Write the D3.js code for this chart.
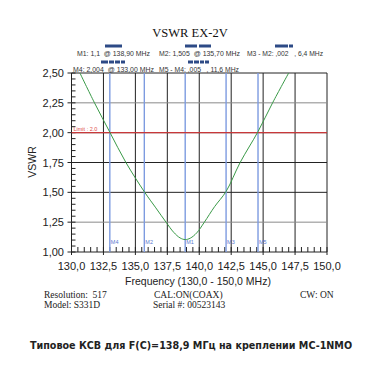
<!DOCTYPE html>
<html><head><meta charset="utf-8">
<script src="https://cdn.jsdelivr.net/npm/d3@7"></script>
<style>body{margin:0;background:#fff}svg{display:block}</style>
</head><body>
<svg id="c" width="382" height="382"></svg>
<script>
const freqs = [130.66,131.8,133.0,134.26,135.7,136.6,137.4,138.0,138.5,138.9,139.3,139.8,140.4,141.2,142.1,143.2,144.6,145.74,147.0];
const vswr  = [2.50,2.25,2.004,1.75,1.505,1.37,1.25,1.165,1.118,1.104,1.116,1.16,1.25,1.38,1.507,1.75,2.009,2.25,2.50];
const xTicks = [130,132.5,135,137.5,140,142.5,145,147.5,150];
const yTicks = [1.0,1.25,1.5,1.75,2.0,2.25,2.5];
const markerNames = ["M4","M2","M1","M3","M5"];
const markerFreqs = [133.0,135.7,138.9,142.1,144.6];
const limitValue = 2.0;
const headerTexts = ["M1: 1,1  @ 138,90 MHz","M2: 1,505  @ 135,70 MHz","M3 - M2: ,002   , 6,4 MHz",
                     "M4: 2,004  @ 133,00 MHz","M5 - M4: ,005   , 11,6 MHz"];

const svg = d3.select("#c");
const x = d3.scaleLinear().domain([130,150]).range([71.5,327]);
const y = d3.scaleLinear().domain([1,2.5]).range([252,73]);
const sans = "Liberation Sans, Arial, sans-serif";
const serif = "Liberation Serif, Times New Roman, serif";

// title
svg.append("text").attr("x",190).attr("y",37).attr("text-anchor","middle")
  .attr("font-family",serif).attr("font-size",12.5).attr("fill","#111").text("VSWR EX-2V");
// header marker bars
const bars = [[105,46,17],[185,46,12],[199,46,12],[275,46,13],[289,46,4],
  [101,62,7],[109,62,5],[115,62,5],[121,62,4],[188,62,5],[194,62,5],[200,62,4],[205,62,4]];
svg.selectAll("rect.hb").data(bars).join("rect").attr("class","hb")
  .attr("x",d=>d[0]).attr("y",d=>d[1]-1.5).attr("width",d=>d[2]).attr("height",3).attr("fill","#2d4a86");
// header texts: [x, y, width]
const hpos = [[77,56,73],[159,56,81],[247,56,76],[73,71.5,81],[159,71.5,80]];
svg.selectAll("text.hd").data(headerTexts).join("text").attr("class","hd")
  .attr("x",(d,i)=>hpos[i][0]).attr("y",(d,i)=>hpos[i][1])
  .attr("textLength",(d,i)=>hpos[i][2]).attr("lengthAdjust","spacingAndGlyphs")
  .attr("font-family",sans).attr("font-size",7.6)
  .attr("fill","#333").attr("xml:space","preserve").text(d=>d);

const g = svg.append("g");
// vertical grid
g.selectAll("line.vg").data(xTicks).join("line").attr("class","vg")
  .attr("x1",d=>x(d)).attr("x2",d=>x(d)).attr("y1",y(2.5)).attr("y2",y(1))
  .attr("stroke","#222").attr("stroke-width",1);
// horizontal grid
g.selectAll("line.hg").data(yTicks).join("line").attr("class","hg")
  .attr("x1",x(130)).attr("x2",x(150)).attr("y1",d=>y(d)).attr("y2",d=>y(d))
  .attr("stroke",d=>(d===2.25||d===1.25)?"#8a8a8a":"#222").attr("stroke-width",1);
// minor ticks y
const yMinor = d3.range(1,2.5001,0.05);
g.selectAll("line.ym").data(yMinor).join("line").attr("class","ym")
  .attr("x1",x(130)).attr("x2",x(130)+4).attr("y1",d=>y(d)).attr("y2",d=>y(d)).attr("stroke","#222");
// minor ticks x
const xMinor = d3.range(130,150.001,0.5);
g.selectAll("line.xm").data(xMinor).join("line").attr("class","xm")
  .attr("x1",d=>x(d)).attr("x2",d=>x(d)).attr("y1",y(1)).attr("y2",y(1)-5).attr("stroke","#222");
// major ticks outside
g.selectAll("line.yt").data(yTicks).join("line").attr("class","yt")
  .attr("x1",x(130)-4).attr("x2",x(130)).attr("y1",d=>y(d)).attr("y2",d=>y(d)).attr("stroke","#222");
g.selectAll("line.xt").data(xTicks).join("line").attr("class","xt")
  .attr("x1",d=>x(d)).attr("x2",d=>x(d)).attr("y1",y(1)).attr("y2",y(1)+3).attr("stroke","#222");

// markers
g.selectAll("line.mk").data(markerFreqs).join("line").attr("class","mk")
  .attr("x1",d=>x(d)).attr("x2",d=>x(d)).attr("y1",y(2.5)).attr("y2",y(1))
  .attr("stroke","#7d9be0").attr("stroke-width",1.4);
g.selectAll("text.mk").data(markerFreqs).join("text").attr("class","mk")
  .attr("x",d=>x(d)+1).attr("y",y(1)-8).attr("font-family",sans).attr("font-size",5.5)
  .attr("fill","#5a7ad0").text((d,i)=>markerNames[i]);

// limit
g.append("line").attr("x1",x(130)).attr("x2",x(150)).attr("y1",y(limitValue)).attr("y2",y(limitValue))
  .attr("stroke","#c8383a").attr("stroke-width",1.4);
g.append("text").attr("x",x(130)+2).attr("y",y(limitValue)-2).attr("font-family",sans)
  .attr("font-size",5.5).attr("fill","#e04848").text("Limit : 2.0");

// curve
const pts = freqs.map((f,i)=>[f,vswr[i]]);
g.append("path").datum(pts).attr("fill","none").attr("stroke","#3a9a48").attr("stroke-width",1)
  .attr("d",d3.line().x(d=>x(d[0])).y(d=>y(d[1])).curve(d3.curveCatmullRom));

// axis labels
g.selectAll("text.yl").data(yTicks).join("text").attr("class","yl")
  .attr("x",64).attr("y",d=>y(d)+4).attr("text-anchor","end").attr("font-family",sans)
  .attr("font-size",11).attr("fill","#222").text(d=>d3.format(".2f")(d).replace(".",","));
g.selectAll("text.xl").data(xTicks).join("text").attr("class","xl")
  .attr("x",d=>x(d)).attr("y",270).attr("text-anchor","middle").attr("font-family",sans)
  .attr("font-size",11).attr("fill","#222").text(d=>d3.format(".1f")(d).replace(".",","));
svg.append("text").attr("transform","translate(36,162) rotate(-90)").attr("text-anchor","middle")
  .attr("font-family",sans).attr("font-size",10.5).attr("fill","#222").text("VSWR");
svg.append("text").attr("x",198).attr("y",285).attr("text-anchor","middle")
  .attr("font-family",sans).attr("font-size",10.5).attr("fill","#222").text("Frequency (130,0 - 150,0 MHz)");

// footer
const foot = [[44,298,"Resolution:  517"],[44,308,"Model: S331D"],[154,298,"CAL:ON(COAX)"],[153,308,"Serial #: 00523143"],[300,298,"CW: ON"]];
svg.selectAll("text.ft").data(foot).join("text").attr("class","ft")
  .attr("x",d=>d[0]).attr("y",d=>d[1]).attr("font-family",serif).attr("font-size",9.5)
  .attr("fill","#222").attr("xml:space","preserve").text(d=>d[2]);
svg.append("text").attr("x",191).attr("y",349).attr("text-anchor","middle")
  .attr("font-family","DejaVu Sans, sans-serif").attr("font-weight","bold").attr("font-size",9.6)
  .attr("fill","#222").text("Типовое КСВ для F(C)=138,9 МГц на креплении MC-1NMO");
</script>
</body></html>
